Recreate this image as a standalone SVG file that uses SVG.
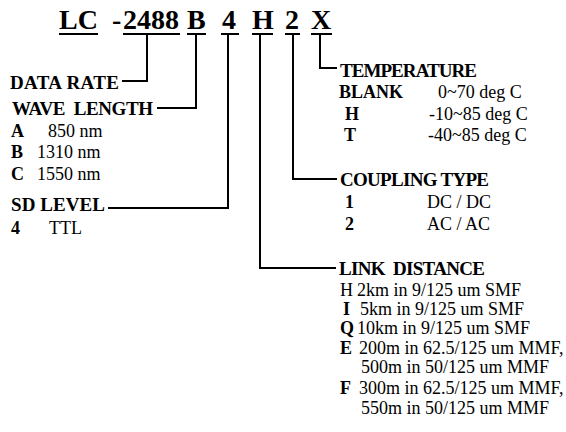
<svg xmlns="http://www.w3.org/2000/svg" width="566" height="432" viewBox="0 0 566 432">
<style>
text{font-family:"Liberation Serif","Times New Roman",serif;fill:#000}
.t{font-size:28px;font-weight:bold}
.h{font-size:19px;font-weight:bold}
.b{font-size:18px;font-weight:bold}
.r{font-size:18px}
.ul{stroke:#000;stroke-width:2}
.c{fill:none;stroke:#000;stroke-width:2}
</style>
<rect width="566" height="432" fill="#fff"/>
<g id="title">
<text class="t" x="59" y="29">LC</text>
<text class="t" x="112" y="29">-</text>
<text class="t" x="123" y="29">2488</text>
<text class="t" x="187" y="29">B</text>
<text class="t" x="222" y="29">4</text>
<text class="t" x="252" y="29">H</text>
<text class="t" x="285" y="29">2</text>
<text class="t" x="311" y="29">X</text>
<line class="ul" x1="59" y1="34" x2="98" y2="34"/>
<line class="ul" x1="123" y1="34" x2="180" y2="34"/>
<line class="ul" x1="187" y1="34" x2="206" y2="34"/>
<line class="ul" x1="221" y1="34" x2="239" y2="34"/>
<line class="ul" x1="252" y1="34" x2="273" y2="34"/>
<line class="ul" x1="285" y1="34" x2="300" y2="34"/>
<line class="ul" x1="311" y1="34" x2="332" y2="34"/>
</g>
<g id="connectors">
<polyline class="c" points="147,34 147,81 122,81"/>
<polyline class="c" points="196,34 196,108 157,108"/>
<polyline class="c" points="228,34 228,208 108,208"/>
<polyline class="c" points="260,34 260,268 336,268"/>
<polyline class="c" points="293,34 293,179 337,179"/>
<polyline class="c" points="320,34 320,68 337,68"/>
</g>
<g id="data-rate">
<text class="h" x="10" y="89" textLength="109" lengthAdjust="spacing">DATA RATE</text>
</g>
<g id="wave-length">
<text class="h" x="12" y="115" xml:space="preserve" textLength="141" lengthAdjust="spacing">WAVE  LENGTH</text>
<text class="b" x="11" y="137">A</text><text class="r" x="48" y="137">850 nm</text>
<text class="b" x="11" y="158">B</text><text class="r" x="37" y="158">1310 nm</text>
<text class="b" x="11" y="180">C</text><text class="r" x="37" y="180">1550 nm</text>
</g>
<g id="sd-level">
<text class="h" x="11" y="211" textLength="94" lengthAdjust="spacing">SD LEVEL</text>
<text class="b" x="11" y="234">4</text><text class="r" x="49" y="234">TTL</text>
</g>
<g id="temperature">
<text class="h" x="340" y="77" textLength="137" lengthAdjust="spacing">TEMPERATURE</text>
<text class="b" x="339" y="98">BLANK</text><text class="r" x="438" y="98">0~70 deg C</text>
<text class="b" x="345" y="120">H</text><text class="r" x="429" y="120">-10~85 deg C</text>
<text class="b" x="344" y="141">T</text><text class="r" x="428" y="141">-40~85 deg C</text>
</g>
<g id="coupling-type">
<text class="h" x="340" y="186" textLength="149" lengthAdjust="spacing">COUPLING TYPE</text>
<text class="b" x="345" y="208">1</text><text class="r" x="427" y="208">DC / DC</text>
<text class="b" x="345" y="230">2</text><text class="r" x="427" y="230">AC / AC</text>
</g>
<g id="link-distance">
<text class="h" x="339" y="275" xml:space="preserve" textLength="146" lengthAdjust="spacing">LINK  DISTANCE</text>
<text class="r" x="340" y="296">H</text><text class="r" x="357" y="296">2km in 9/125 um SMF</text>
<text class="b" x="343" y="315">I</text><text class="r" x="360" y="315">5km in 9/125 um SMF</text>
<text class="b" x="340" y="334">Q</text><text class="r" x="357" y="334">10km in 9/125 um SMF</text>
<text class="b" x="340" y="354">E</text><text class="r" x="359" y="354">200m in 62.5/125 um MMF,</text>
<text class="r" x="361" y="373">500m in 50/125 um MMF</text>
<text class="b" x="340" y="394">F</text><text class="r" x="359" y="394">300m in 62.5/125 um MMF,</text>
<text class="r" x="361" y="414">550m in 50/125 um MMF</text>
</g>
</svg>
